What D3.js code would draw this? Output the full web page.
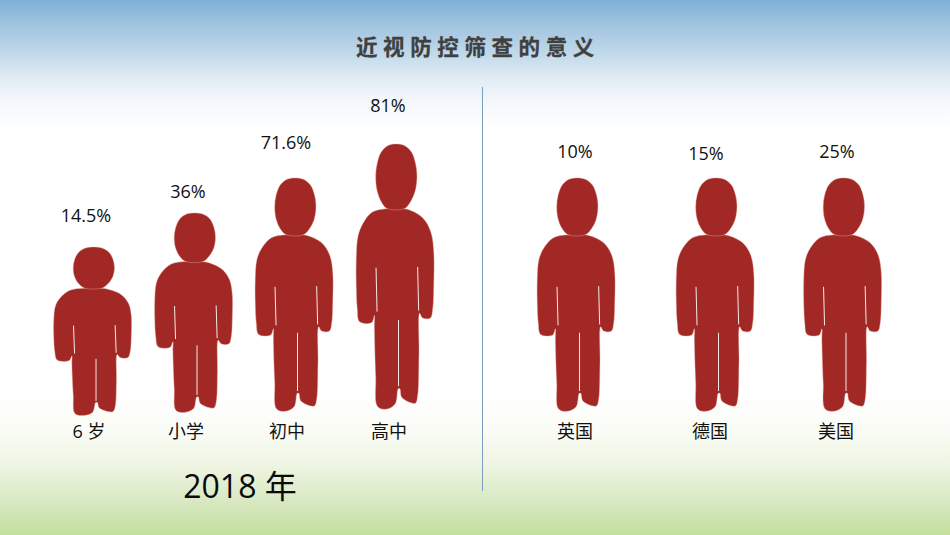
<!DOCTYPE html>
<html><head><meta charset="utf-8">
<script src="https://cdn.jsdelivr.net/npm/d3@7"></script>
<style>html,body{margin:0;padding:0;background:#fff}svg{display:block}</style>
</head><body><div id="c"></div>
<script>
const categories = ["6 岁","小学","初中","高中","英国","德国","美国"];
const rateLabels = ["14.5%","36%","71.6%","81%","10%","15%","25%"];
const relativeStature = [0.635,0.752,0.88,1,0.88,0.88,0.88];
const title = "近视防控筛查的意义";
const yearLabel = "2018 年";

const W=950,H=535;
const svg=d3.select("#c").append("svg").attr("width",W).attr("height",H);
const defs=svg.append("defs");
const g=defs.append("linearGradient").attr("id","bg").attr("x1",0).attr("x2",0).attr("y1",0).attr("y2",H).attr("gradientUnits","userSpaceOnUse");
[[0,"#7fb0d7"],[25,"#a0c4df"],[50,"#bdd6e8"],[80,"#e2edf5"],[100,"#f3f7fb"],[130,"#ffffff"],[395,"#ffffff"],[430,"#fafcf6"],[465,"#eef5e2"],[500,"#d9e9c4"],[535,"#c3df9c"]]
 .forEach(s=>g.append("stop").attr("offset",s[0]/H).attr("stop-color",s[1]));
svg.append("rect").attr("width",W).attr("height",H).attr("fill","url(#bg)");

// scales
const xFigure=d3.scaleOrdinal().domain(categories).range([92.5,193.5,294,395,576,715,842.5]);
const xLabel=d3.scaleOrdinal().domain(categories).range([89,186,287,389,575,710,836]);
const xRate=d3.scaleOrdinal().domain(categories).range([86,188,286,388,575,706,837]);
const yRate=d3.scaleOrdinal().domain(categories).range([216,192,143,106,152,154,152]);
const yFoot=d3.scaleOrdinal().domain(categories).range([416,413,412,410,412,412,412]);
const statureScale=d3.scaleLinear().domain([0,1]).range([0,266]);
const figW=77.5;

// silhouette drawn in a 231 x 703 design space (offset 22,25)
const bodyPts=[[112,196],[70,205],[42,235],[27,270],[22,330],[22,400],[25,460],[32,495],[68,497],[76,478],[76,510],[80,640],[85,718],[110,726],[138,712],[147,672],[152,672],[158,695],[198,710],[205,690],[209,580],[211,472],[220,485],[243,485],[250,460],[253,400],[253,310],[245,260],[225,225],[195,205],[165,196]];
const headPts=[[141,25],[165,29],[187,47],[199,78],[203,110],[198,148],[182,180],[165,196],[115,196],[98,180],[84,148],[80,110],[84,78],[96,47],[117,29]];
const slits=[[[81,352],[84,468]],[[205,350],[208,465]],[[148,490],[148,665]]];

categories.forEach((c,i)=>{
  const h=statureScale(relativeStature[i]);
  const foot=yFoot(c), cx=xFigure(c);
  const sx=d3.scaleLinear().domain([22,253]).range([cx-figW/2,cx+figW/2]);
  const sy=d3.scaleLinear().domain([25,728]).range([foot-h,foot]);
  const closed=d3.line().x(d=>sx(d[0])).y(d=>sy(d[1])).curve(d3.curveCatmullRomClosed.alpha(.5));
  const open=d3.line().x(d=>sx(d[0])).y(d=>sy(d[1]));
  const fig=svg.append("g");
  [bodyPts,headPts].forEach(p=>fig.append("path").attr("d",closed(p)).attr("fill","#a12824").attr("stroke","#e6aca4").attr("stroke-width",.6).attr("stroke-opacity",.7));
  slits.forEach(s=>fig.append("path").attr("d",open(s)).attr("stroke","#fff").attr("stroke-width",.9).attr("fill","none"));
});

// divider
svg.append("line").attr("x1",482.5).attr("x2",482.5).attr("y1",87).attr("y2",491).attr("stroke","#7c9dbf").attr("stroke-width",1);

const latin='"Open Sans","Noto Sans CJK SC",sans-serif';
const cjk='"Noto Sans CJK SC",sans-serif';
svg.append("g").selectAll("text").data(categories).join("text")
 .attr("x",d=>xRate(d)).attr("y",d=>yRate(d)).attr("dy","0.35em").attr("text-anchor","middle")
 .attr("font-family",latin).attr("font-size",18).attr("fill","#111")
 .text((d,i)=>rateLabels[i]);
svg.append("g").selectAll("text").data(categories).join("text")
 .attr("x",d=>xLabel(d)).attr("y",432).attr("dy","0.35em").attr("text-anchor","middle")
 .attr("font-family",latin).attr("font-size",18).attr("fill","#111")
 .text(d=>d);
svg.append("text").attr("x",240).attr("y",487).attr("dy","0.35em").attr("text-anchor","middle")
 .attr("font-family",latin).attr("font-size",32).attr("fill","#0a0a0a").text(yearLabel);
svg.append("text").attr("x",356).attr("y",47.5).attr("dy","0.35em").attr("text-anchor","start")
 .attr("font-family",cjk).attr("font-weight",700).attr("font-size",21.5).attr("letter-spacing",5.6).attr("fill","#404040").attr("stroke","#404040").attr("stroke-width",.3).text(title);
</script></body></html>
